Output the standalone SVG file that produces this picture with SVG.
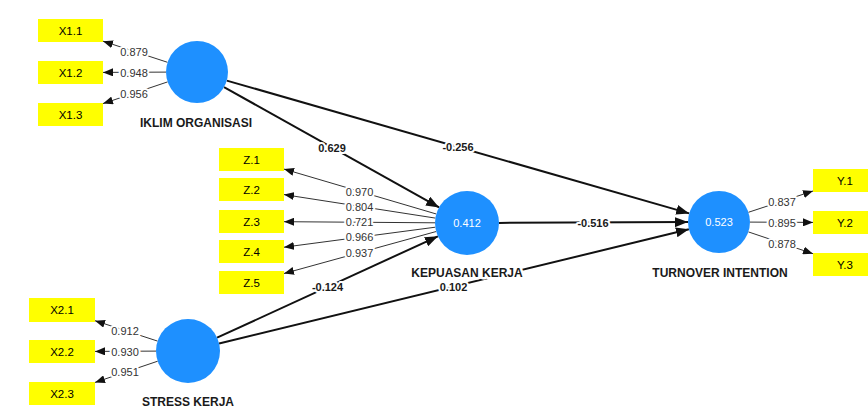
<svg xmlns="http://www.w3.org/2000/svg" width="868" height="419" viewBox="0 0 868 419">
<style>
.bg{fill:#fff}
.lat{fill:#1e90ff}
.ind{fill:#ffff00}
.it{font-family:"Liberation Sans",Arial,sans-serif;font-size:11.5px;fill:#000;text-anchor:middle}
.ln{font-family:"Liberation Sans",Arial,sans-serif;font-size:12px;font-weight:bold;fill:#1a1a1a;text-anchor:middle;stroke:#fff;stroke-width:5px;paint-order:stroke;stroke-linejoin:round}
.r2{font-family:"Liberation Sans",Arial,sans-serif;font-size:11px;fill:#fff;text-anchor:middle}
.ld{font-family:"Liberation Sans",Arial,sans-serif;font-size:11px;fill:#333;text-anchor:middle;stroke:#fff;stroke-width:4px;paint-order:stroke;stroke-linejoin:round}
.pc{font-family:"Liberation Sans",Arial,sans-serif;font-size:11px;font-weight:bold;fill:#1a1a1a;text-anchor:middle;stroke:#fff;stroke-width:4px;paint-order:stroke;stroke-linejoin:round}
.thin{stroke:#333;stroke-width:1;fill:none;marker-end:url(#ah)}
.thick{stroke:#111;stroke-width:2;fill:none;marker-end:url(#ahb)}
</style>
<defs>
<marker id="ah" viewBox="0 0 10 8" refX="10" refY="4" markerWidth="10" markerHeight="8" orient="auto" markerUnits="userSpaceOnUse"><path d="M0,0 L10,4 L0,8 z" fill="#111"/></marker>
<marker id="ahb" viewBox="0 0 13 10" refX="13" refY="5" markerWidth="13" markerHeight="10" orient="auto" markerUnits="userSpaceOnUse"><path d="M0,0 L13,5 L0,10 z" fill="#111"/></marker>
</defs>
<rect class="bg" x="0" y="0" width="868" height="419"/>

<g id="connectors">
<path class="thin" d="M167.5,62.3 L103,41.2"/>
<path class="thin" d="M166,72.1 L103,72.4"/>
<path class="thin" d="M167.6,81.9 L103,103.6"/>
<path class="thin" d="M436.3,214 L284,169.1"/>
<path class="thin" d="M435.4,218.1 L284,194.6"/>
<path class="thin" d="M435,222.8 L284,221.7"/>
<path class="thin" d="M435.3,227.2 L284,247.2"/>
<path class="thin" d="M436.2,231.5 L284,273.5"/>
<path class="thin" d="M157.6,341.1 L95,320.7"/>
<path class="thin" d="M156,351.1 L95,351.4"/>
<path class="thin" d="M157.7,361.2 L95,382.4"/>
<path class="thin" d="M748.4,212.3 L813,191"/>
<path class="thin" d="M750,222.1 L813,222.4"/>
<path class="thin" d="M748.4,231.9 L813,253.7"/>
<path class="thick" d="M224,87.1 L439.1,207.4"/>
<path class="thick" d="M226.8,80.6 L689.2,213.4"/>
<path class="thick" d="M499,222.9 L688,222.1"/>
<path class="thick" d="M217.1,337.7 L437.9,236.3"/>
<path class="thick" d="M219.1,343.5 L688.9,229.3"/>
<text class="ld" x="134" y="55.5">0.879</text>
<text class="ld" x="134" y="76.5">0.948</text>
<text class="ld" x="134" y="97.5">0.956</text>
<text class="ld" x="359.5" y="195.5">0.970</text>
<text class="ld" x="359.5" y="210.5">0.804</text>
<text class="ld" x="359.5" y="226">0.721</text>
<text class="ld" x="359.5" y="241">0.966</text>
<text class="ld" x="359.5" y="257">0.937</text>
<text class="ld" x="125" y="335">0.912</text>
<text class="ld" x="125" y="355.5">0.930</text>
<text class="ld" x="125" y="376">0.951</text>
<text class="ld" x="782" y="205.5">0.837</text>
<text class="ld" x="782" y="226.5">0.895</text>
<text class="ld" x="782" y="247.5">0.878</text>
<text class="pc" x="332" y="151.5">0.629</text>
<text class="pc" x="458" y="151">-0.256</text>
<text class="pc" x="593" y="226.5">-0.516</text>
<text class="pc" x="327.5" y="291">-0.124</text>
<text class="pc" x="453.5" y="290.5">0.102</text>
</g>

<g id="iklim">
<circle class="lat" cx="197" cy="72" r="31"/>
<text class="ln" x="196" y="127">IKLIM ORGANISASI</text>
</g>
<g id="kepuasan">
<circle class="lat" cx="467" cy="223" r="32"/>
<text class="r2" x="467" y="227">0.412</text>
<text class="ln" x="467" y="277">KEPUASAN KERJA</text>
</g>
<g id="turnover">
<circle class="lat" cx="719" cy="222" r="31"/>
<text class="r2" x="719" y="226">0.523</text>
<text class="ln" x="720" y="277">TURNOVER INTENTION</text>
</g>
<g id="stress">
<circle class="lat" cx="188" cy="351" r="32"/>
<text class="ln" x="188" y="406">STRESS KERJA</text>
</g>

<g id="x11"><rect class="ind" x="38" y="19" width="65" height="23"/><text class="it" x="70.5" y="34.5">X1.1</text></g>
<g id="x12"><rect class="ind" x="38" y="61" width="65" height="23"/><text class="it" x="70.5" y="76.5">X1.2</text></g>
<g id="x13"><rect class="ind" x="38" y="103" width="65" height="23"/><text class="it" x="70.5" y="118.5">X1.3</text></g>
<g id="z1"><rect class="ind" x="219" y="148" width="65" height="23"/><text class="it" x="251.5" y="163.5">Z.1</text></g>
<g id="z2"><rect class="ind" x="219" y="178" width="65" height="23"/><text class="it" x="251.5" y="193.5">Z.2</text></g>
<g id="z3"><rect class="ind" x="219" y="210" width="65" height="23"/><text class="it" x="251.5" y="225.5">Z.3</text></g>
<g id="z4"><rect class="ind" x="219" y="240" width="65" height="23"/><text class="it" x="251.5" y="255.5">Z.4</text></g>
<g id="z5"><rect class="ind" x="219" y="271" width="65" height="23"/><text class="it" x="251.5" y="286.5">Z.5</text></g>
<g id="x21"><rect class="ind" x="29" y="298" width="66" height="24"/><text class="it" x="62" y="314">X2.1</text></g>
<g id="x22"><rect class="ind" x="29" y="340" width="66" height="23"/><text class="it" x="62" y="355.5">X2.2</text></g>
<g id="x23"><rect class="ind" x="29" y="382" width="66" height="23"/><text class="it" x="62" y="397.5">X2.3</text></g>
<g id="y1"><rect class="ind" x="813" y="169" width="64" height="23"/><text class="it" x="845" y="184.5">Y.1</text></g>
<g id="y2"><rect class="ind" x="813" y="211" width="64" height="23"/><text class="it" x="845" y="226.5">Y.2</text></g>
<g id="y3"><rect class="ind" x="813" y="253" width="64" height="23"/><text class="it" x="845" y="268.5">Y.3</text></g>
</svg>
